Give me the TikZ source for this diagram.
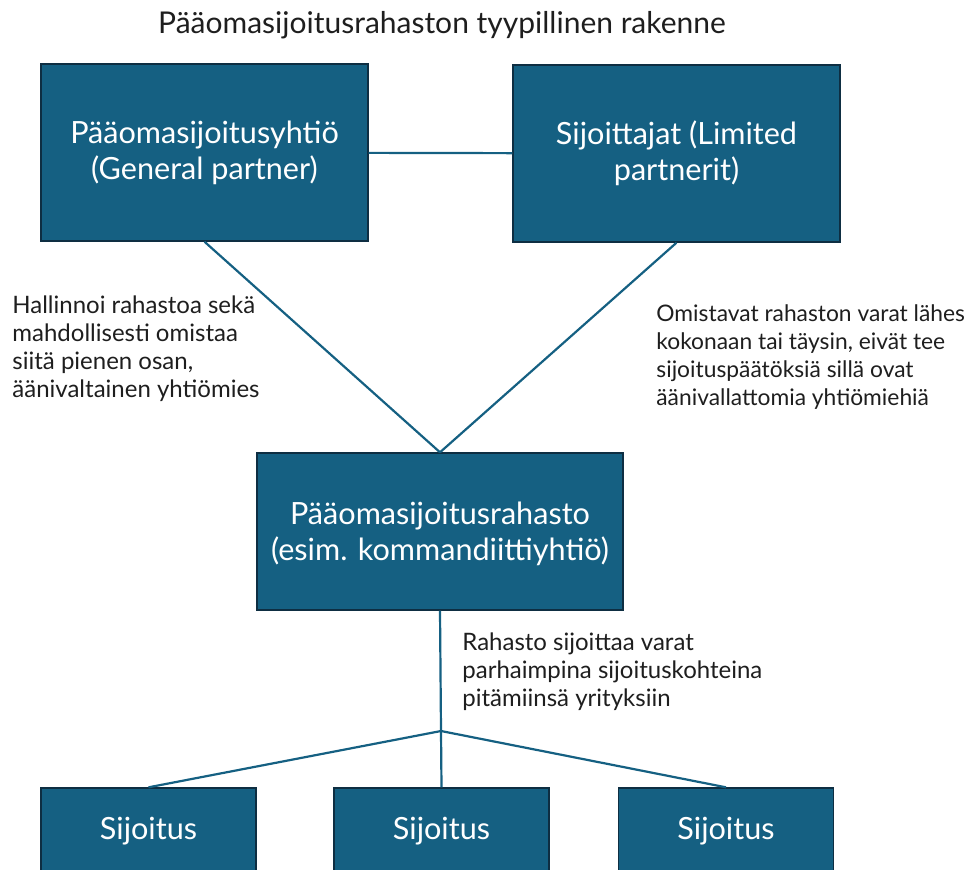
\documentclass[tikz,border=0pt]{standalone}
\usepackage{fontspec}
\setmainfont{Lato}
\definecolor{boxblue}{HTML}{156082}
\definecolor{boxedge}{HTML}{0E2E42}
\definecolor{inkgray}{HTML}{1E1E1E}
\begin{document}
\begin{tikzpicture}
      [x=0.5pt,y=-0.5pt,
      main node/.style={rectangle,fill=boxblue,draw=boxedge,line width=0.7pt,text=white,align=center,inner sep=0pt,font=\fontsize{15.3}{18}\selectfont},
      note node/.style={anchor=north west,align=left,inner sep=0pt,text=inkgray,font=\fontsize{12}{14}\selectfont},
      link/.style={draw=boxblue,line width=1.1pt}]
      \useasboundingbox (0,0) rectangle (979,869);
      \clip (0,0) rectangle (979,869);
      \node[anchor=base,inner sep=0pt,text=inkgray,font=\fontsize{15}{17}\selectfont] (title) at (442,33) {Pääomasijoitusrahaston tyypillinen rakenne};
      \node[main node,minimum width=163.5pt,minimum height=88.5pt] (gp) at (204.5,152.5) {Pääomasijoitusyhtiö\\(General partner)};
      \node[main node,minimum width=163.5pt,minimum height=88.5pt] (lp) at (676.5,153.5) {Sijoittajat (Limited\\partnerit)};
      \node[main node,minimum width=183pt,minimum height=78.5pt,text depth=0pt] (fund) at (440,531.5) {Pääomasijoitusrahasto\\(esim. kommandiittiyhtiö)};
      \node[main node,minimum width=107.5pt,minimum height=43pt] (s1) at (148.5,831) {Sijoitus};
      \node[main node,minimum width=107.5pt,minimum height=43pt] (s2) at (441.5,831) {Sijoitus};
      \node[main node,minimum width=107.5pt,minimum height=43pt] (s3) at (726,831) {Sijoitus};
      \coordinate (split) at (441,731);
      \node[note node] (gpnote) at (12,295) {Hallinnoi rahastoa sekä\\mahdollisesti omistaa\\siitä pienen osan,\\äänivaltainen yhtiömies};
      \node[note node,font=\fontsize{11.4}{14}\selectfont] (lpnote) at (656,304) {Omistavat rahaston varat lähes\\kokonaan tai täysin, eivät tee\\sijoituspäätöksiä sillä ovat\\äänivallattomia yhtiömiehiä};
      \node[note node] (fundnote) at (462,632) {Rahasto sijoittaa varat\\parhaimpina sijoituskohteina\\pitämiinsä yrityksiin};
      \path (gp) edge[link] (lp);
      \path (gp.south) edge[link] (fund.north);
      \path (lp.south) edge[link] (fund.north);
      \path (fund.south) edge[link] (split);
      \path (split) edge[link] (s1.north);
      \path (split) edge[link] (s2.north);
      \path (split) edge[link] (s3.north);
    \end{tikzpicture}
\end{document}
